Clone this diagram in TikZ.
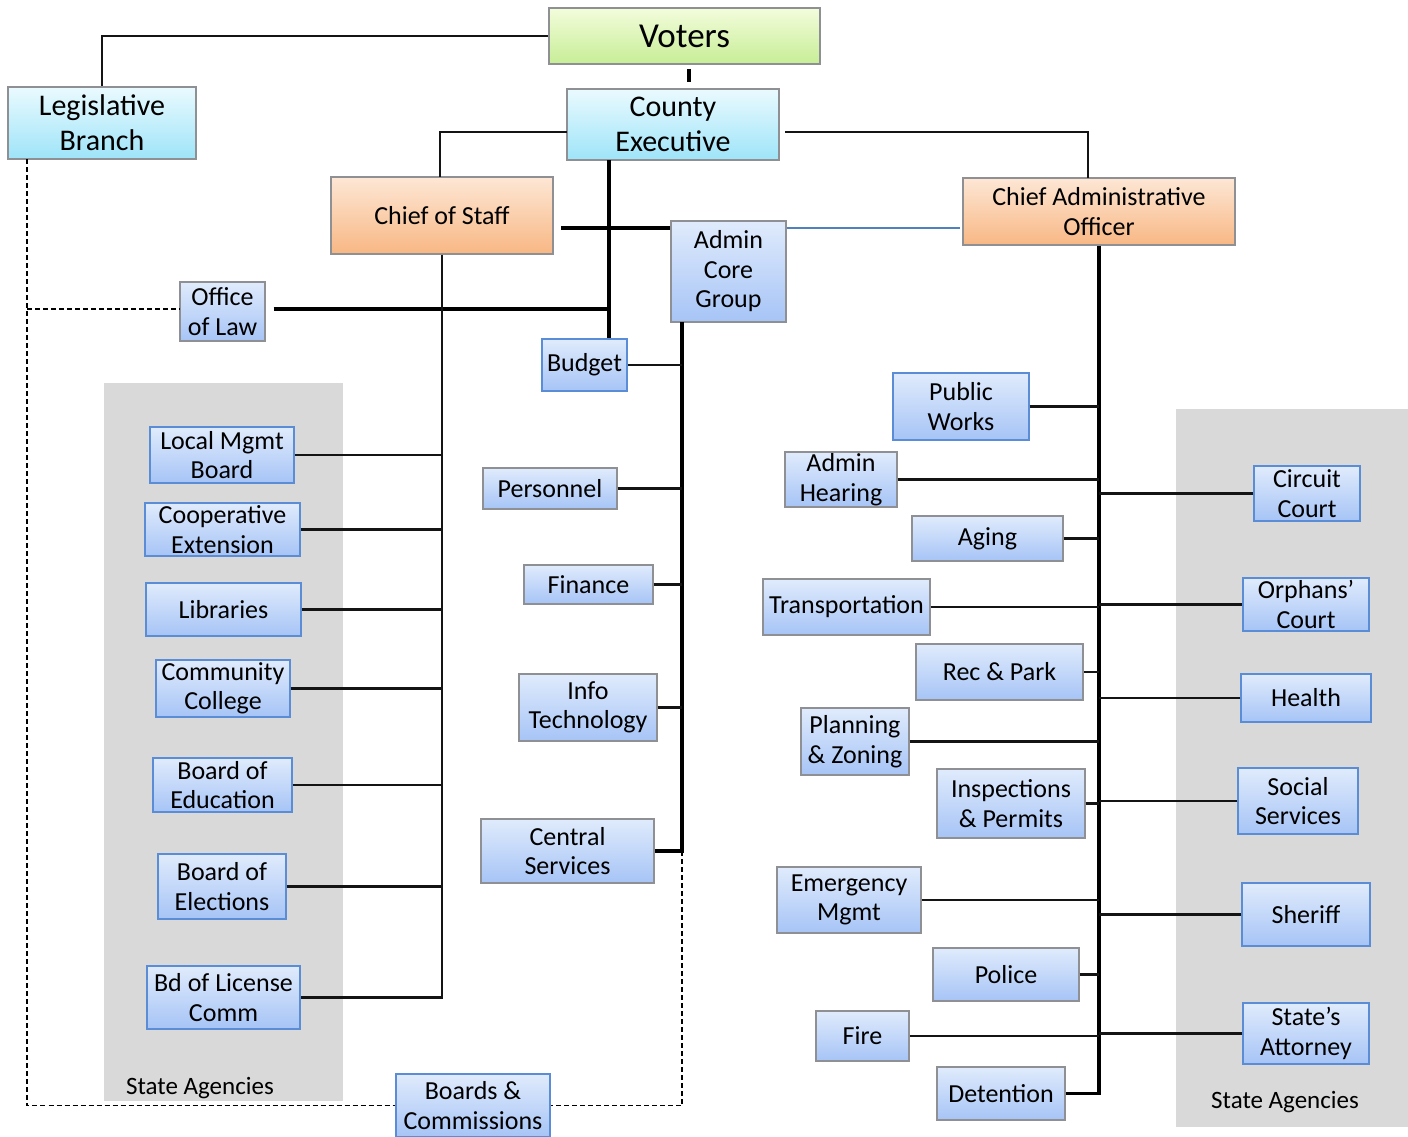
\documentclass[tikz,border=0pt]{standalone}
\usepackage{fontspec}
\setmainfont{Carlito}
\usetikzlibrary{calc}
\definecolor{bxtop}{HTML}{E0EBFC}
\definecolor{bxbot}{HTML}{A6C4F6}
\definecolor{bxblue}{HTML}{5B8DD6}
\definecolor{bxgray}{HTML}{8E9094}
\definecolor{cytop}{HTML}{EAFAFE}
\definecolor{cybot}{HTML}{9EE4F9}
\definecolor{grtop}{HTML}{F3FCDC}
\definecolor{grbot}{HTML}{C7EE96}
\definecolor{ortop}{HTML}{FDE7D5}
\definecolor{orbot}{HTML}{F8B784}
\definecolor{panel}{HTML}{D9D9D9}
\definecolor{linkblue}{HTML}{4F81BD}
\tikzset{
  base/.style={rectangle, inner sep=0pt, align=center, line width=1.3pt,
    font=\fontsize{26}{29.5}\selectfont},
  bbox/.style={base, top color=bxtop, bottom color=bxbot, draw=bxblue},
  gbox/.style={base, top color=bxtop, bottom color=bxbot, draw=bxgray},
  cbox/.style={base, top color=cytop, bottom color=cybot, draw=bxgray,
    font=\fontsize{30}{35}\selectfont},
  vbox/.style={base, top color=grtop, bottom color=grbot, draw=bxgray,
    font=\fontsize{35}{40}\selectfont},
  obox/.style={base, top color=ortop, bottom color=orbot, draw=bxgray},
  spine/.style={line width=3.2pt, black},
  branch/.style={line width=2.3pt, black!92},
  dline/.style={line width=1.8pt, black, dash pattern=on 5pt off 3pt},
  lbl/.style={inner sep=0pt, font=\fontsize{25}{29}\selectfont}
}
\newcommand{\bx}[6]{\node[#1, minimum width=#4pt, minimum height=#5pt] (#2) at (#3) {#6};}
\begin{document}
\begin{tikzpicture}[x=1pt,y=-1pt]
\useasboundingbox (0,0) rectangle (1408,1137);
% panels
\fill[panel] (104,383) rectangle (343,1101);
\fill[panel] (1176,409) rectangle (1408,1127);
\node[lbl] (sal) at (200,1088) {State Agencies};
\node[lbl] (sar) at (1285,1102) {State Agencies};
% top
\bx{vbox}{voters}{684.5,36}{271}{56}{Voters}
\bx{cbox}{leg}{102,123}{188}{72}{Legislative\\Branch}
\bx{cbox}{ce}{673,124.5}{212}{71}{County\\Executive}
\bx{obox}{cos}{442,215.5}{222}{77}{Chief of Staff}
\bx{obox}{cao}{1099,211.5}{272}{67}{Chief Administrative\\Officer}
\bx{gbox}{acg}{728.5,271.5}{115}{101}{Admin\\Core\\Group}
\bx{gbox}{ool}{222.5,311.5}{85}{59}{Office\\of Law}
% admin core group
\bx{bbox}{budget}{584.5,365}{85}{52}{Budget}
\bx{gbox}{pers}{550,488.5}{134}{41}{Personnel}
\bx{gbox}{fin}{588.5,584.5}{129}{39}{Finance}
\bx{gbox}{it}{588,707.5}{138}{67}{Info\\Technology}
\bx{gbox}{cs}{567.5,851}{173}{64}{Central\\Services}
\bx{bbox}{bc}{473,1105.5}{154}{63}{Boards \&\\Commissions}
% left panel
\bx{bbox}{lmb}{222,455}{144}{56}{Local Mgmt\\Board}
\bx{bbox}{coop}{222.5,529.5}{155}{53}{Cooperative\\Extension}
\bx{bbox}{lib}{223.5,609.5}{155}{53}{Libraries}
\bx{bbox}{cc}{223,688.5}{134}{57}{Community\\College}
\bx{bbox}{boe}{222.5,785}{139}{54}{Board of\\Education}
\bx{bbox}{boel}{222,886.5}{128}{65}{Board of\\Elections}
\bx{bbox}{blc}{223.5,997.5}{153}{63}{Bd of License\\Comm}
% CAO left
\bx{bbox}{pw}{961,406.5}{136}{67}{Public\\Works}
\bx{gbox}{ah}{841,479.5}{112}{55}{Admin\\Hearing}
\bx{gbox}{aging}{987.5,538.5}{151}{45}{Aging}
\bx{gbox}{trans}{846.5,607}{167}{56}{Transportation}
\bx{gbox}{rp}{999.5,672}{167}{56}{Rec \& Park}
\bx{gbox}{pz}{855,741.5}{108}{67}{Planning\\\& Zoning}
\bx{gbox}{ip}{1011,803.5}{148}{69}{Inspections\\\& Permits}
\bx{gbox}{em}{849,900}{144}{66}{Emergency\\Mgmt}
\bx{gbox}{police}{1006,974.5}{146}{53}{Police}
\bx{gbox}{fire}{862.5,1036}{93}{50}{Fire}
\bx{gbox}{det}{1001,1093.5}{128}{53}{Detention}
% right panel
\bx{bbox}{circ}{1307,493.5}{106}{55}{Circuit\\Court}
\bx{bbox}{orph}{1306,604.5}{126}{53}{Orphans’\\Court}
\bx{bbox}{health}{1306,698}{130}{48}{Health}
\bx{bbox}{soc}{1298,801}{120}{66}{Social\\Services}
\bx{bbox}{sher}{1306,914.5}{128}{63}{Sheriff}
\bx{bbox}{sa}{1306,1033.5}{126}{61}{State’s\\Attorney}
% coordinates
\coordinate (ceL) at (567,132);
\coordinate (ceR) at (785,132);
\coordinate (cosT) at (440,177);
\coordinate (caoT) at (1088,178);
\coordinate (sp1) at (609,160);
\coordinate (hy) at (0,228);
\coordinate (cosR) at (561,228);
\coordinate (acgs) at (682,322);
\coordinate (ld) at (27,159);
\coordinate (vb) at (689,69);
\coordinate (ve) at (689,82);
% top connectors
\draw[branch] (voters.west) -| (leg.north);
\draw[spine] (vb) -- (ve);
\draw[branch] (ceL) -| (cosT);
\draw[branch] (ceR) -| (caoT);
\draw[spine] (sp1) -- (sp1 |- budget.north);
\draw[spine] (cosR) -- (acg.west |- hy);
\draw[line width=2.4pt, linkblue] (acg.east |- hy) -- ([xshift=-2pt]cao.west |- hy);
\draw[spine] ([xshift=8pt]ool.east |- 0,309) -- (sp1 |- 0,309);
% chief of staff spine
\draw[branch, line join=miter] (cos.south) -- (cos.south |- blc.east) -- (blc.east);
\foreach \n in {lmb,coop,lib,cc,boe,boel}
  \draw[branch] (\n.east) -- (\n.east -| cos.south);
% admin core spine
\draw[spine, line join=miter] (acgs) -- (acgs |- cs.east) -- (cs.east);
\foreach \n in {budget,pers,fin,it}
  \draw[branch] (\n.east) -- (\n.east -| acgs);
\draw[dline] (acgs |- cs.east) -- (acgs |- bc.east) -- (bc.east);
% left dashed
\draw[dline] (ld) -- (ld |- bc.west) -- (bc.west);
\draw[dline] (ld |- 0,309) -- (ool.west |- 0,309);
% CAO spine
\draw[spine, line join=miter] (cao.south) -- (cao.south |- det.east) -- (det.east);
\foreach \n in {pw,ah,aging,trans,rp,pz,ip,em,police,fire}
  \draw[branch] (\n.east) -- (\n.east -| cao.south);
\foreach \n in {circ,orph,health,soc,sher,sa}
  \draw[branch] (\n.west) -- (\n.west -| cao.south);
\end{tikzpicture}
\end{document}
